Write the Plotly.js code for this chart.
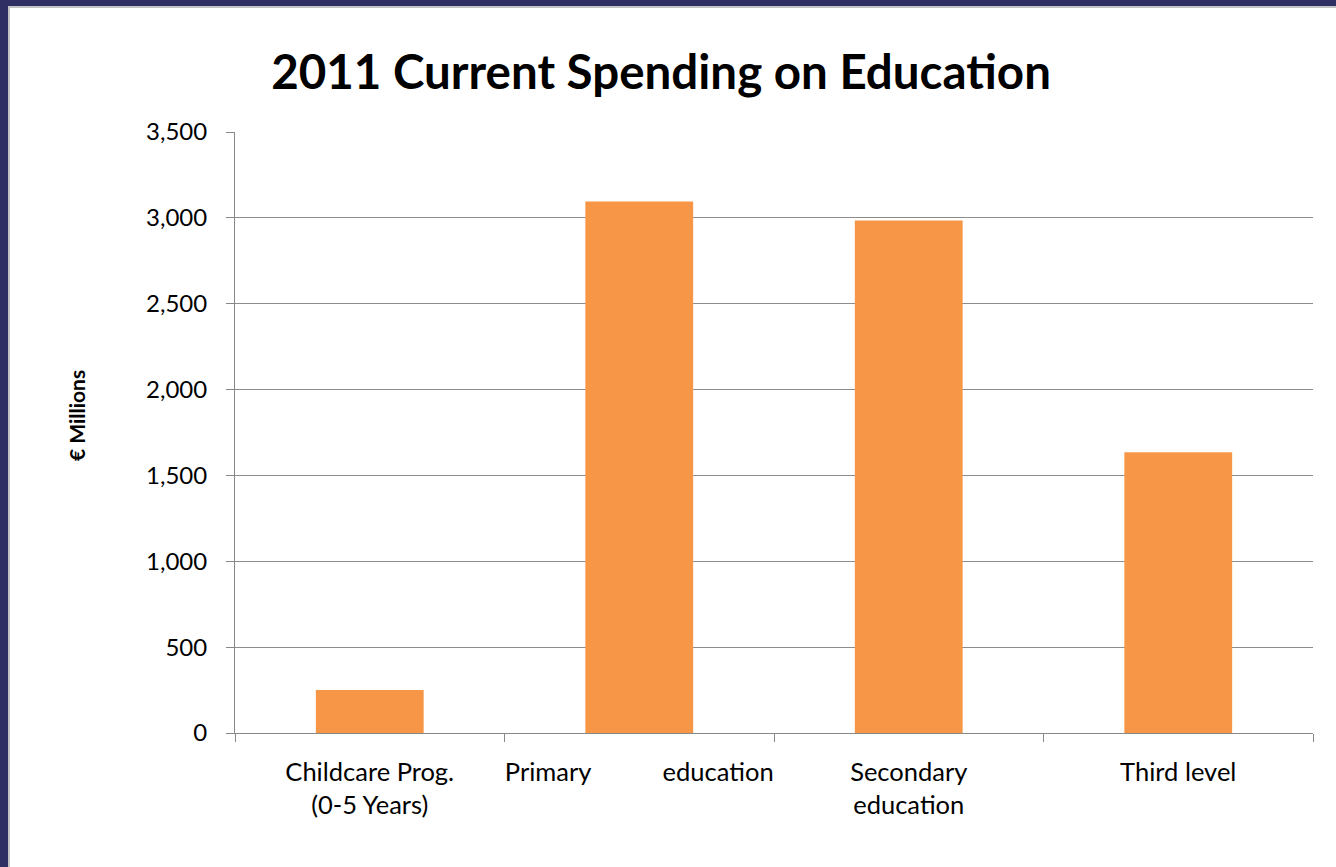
<!DOCTYPE html>
<html>
<head>
<meta charset="utf-8">
<script src="https://cdn.plot.ly/plotly-3.0.1.min.js"></script>
<style>
html,body{margin:0;padding:0;background:#2f2f63;width:1336px;height:867px;overflow:hidden;}
#frame{position:absolute;left:8px;top:6px;width:1328px;height:861px;background:#fff;border-left:2px solid #c4c4c4;border-top:2px solid #c4c4c4;box-sizing:border-box;}
#chart{position:absolute;left:10px;top:8px;width:1326px;height:859px;}
</style>
</head>
<body>
<div id="frame"></div>
<div id="chart"></div>
<script>
const categories = ["Childcare Prog.<br>(0-5 Years)", "Primary\u00A0\u00A0\u00A0\u00A0\u00A0\u00A0\u00A0\u00A0\u00A0\u00A0\u00A0education", "Secondary<br>education", "Third level"];
const values = [250, 3095, 2985, 1635];
const yTicks = [0, 500, 1000, 1500, 2000, 2500, 3000, 3500];
const yTickText = ["0", "500", "1,000", "1,500", "2,000", "2,500", "3,000", "3,500"];
const yTitle = "<b>€ Millions</b>";

const font = "Lato, 'Open Sans', 'DejaVu Sans', sans-serif";

Plotly.newPlot('chart', [{
  type: 'bar',
  x: categories,
  y: values,
  marker: {color: '#F79646'},
  hoverinfo: 'none'
}], {
  width: 1326, height: 859,
  margin: {l: 225, r: 23, t: 124, b: 134},
  paper_bgcolor: 'rgba(0,0,0,0)',
  plot_bgcolor: '#fff',
  bargap: 0.6,
  showlegend: false,
  title: {
    text: '<b>2011 Current Spending on Education</b>',
    font: {family: font, size: 47.5, color: '#000'},
    x: 0.491, xanchor: 'center', xref: 'container',
    y: 0.925, yanchor: 'middle', yref: 'container'
  },
  xaxis: {
    type: 'category',
    tickson: 'boundaries',
    tickangle: 0,
    ticks: 'outside', ticklen: 8, tickcolor: '#888',
    showline: true, linecolor: '#888', linewidth: 1,
    showgrid: false,
    tickfont: {family: font, size: 25.5, color: '#000'},
    ticklabelstandoff: 16,
    fixedrange: true
  },
  yaxis: {
    range: [0, 3500],
    tickvals: yTicks, ticktext: yTickText,
    ticks: 'outside', ticklen: 8, tickcolor: '#888',
    showline: true, linecolor: '#888', linewidth: 1,
    showgrid: true, gridcolor: '#8c8c8c', gridwidth: 1,
    zeroline: false,
    tickfont: {family: font, size: 24, color: '#000'},
    ticklabelstandoff: 14,
    fixedrange: true
  },
  annotations: [{
    text: yTitle, textangle: -90,
    xref: 'paper', yref: 'paper', x: -0.1475, y: 0.529,
    xanchor: 'center', yanchor: 'middle', showarrow: false,
    font: {family: font, size: 21, color: '#000'}
  }]
}, {staticPlot: true});
</script>
</body>
</html>
